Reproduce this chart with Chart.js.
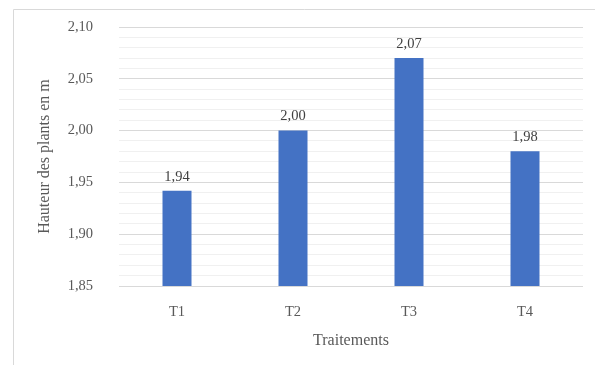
<!DOCTYPE html>
<html>
<head>
<meta charset="utf-8">
<script src="https://cdn.jsdelivr.net/npm/chart.js@4/dist/chart.umd.min.js"></script>
<style>
  html, body { margin: 0; padding: 0; background: #ffffff; }
  #wrap { position: relative; width: 595px; height: 365px; }
</style>
</head>
<body>
<div id="wrap"><canvas id="c" width="595" height="365"></canvas></div>
<script>
// Plant height per treatment
const categories = ['T1', 'T2', 'T3', 'T4'];
const heights = [1.942, 2.00, 2.07, 1.98];
const yMin = 1.85;
const yMax = 2.10;
const minorStep = 0.01;
const majorEvery = 5; // a labelled line every 0.05

const fontFamily = '"Liberation Serif", "Times New Roman", serif';
const textColor = '#595959';

function fmt(v) {
  return v.toFixed(2).replace('.', ',');
}

// Light frame around the chart object
const framePlugin = {
  id: 'frame',
  beforeDraw(chart) {
    const ctx = chart.ctx;
    ctx.save();
    ctx.strokeStyle = '#d9d9d9';
    ctx.lineWidth = 1;
    ctx.beginPath();
    ctx.moveTo(13.5, 400);
    ctx.lineTo(13.5, 9.5);
    ctx.lineTo(600, 9.5);
    ctx.stroke();
    ctx.restore();
  }
};

// Value printed above each bar
const valueLabels = {
  id: 'valueLabels',
  afterDatasetsDraw(chart) {
    const ctx = chart.ctx;
    const meta = chart.getDatasetMeta(0);
    const data = chart.data.datasets[0].data;
    ctx.save();
    ctx.font = '14.5px ' + fontFamily;
    ctx.fillStyle = '#404040';
    ctx.textAlign = 'center';
    ctx.textBaseline = 'middle';
    meta.data.forEach((bar, i) => {
      ctx.fillText(fmt(data[i]), bar.x, bar.y - 14);
    });
    ctx.restore();
  }
};

function isMajor(value) {
  return Math.round(value * 100) % majorEvery === 0;
}

new Chart(document.getElementById('c'), {
  type: 'bar',
  data: {
    labels: categories,
    datasets: [{
      data: heights,
      backgroundColor: '#4472C4',
      borderWidth: 0,
      barPercentage: 0.25,
      categoryPercentage: 1.0
    }]
  },
  options: {
    responsive: false,
    animation: false,
    layout: { padding: { left: 0, right: 12, top: 27, bottom: 0 } },
    plugins: {
      legend: { display: false },
      tooltip: { enabled: false }
    },
    scales: {
      x: {
        grid: { display: false, drawTicks: false },
        border: { display: false },
        ticks: {
          color: textColor,
          font: { family: fontFamily, size: 14.5 },
          padding: 17
        },
        title: {
          display: true,
          text: 'Traitements',
          color: textColor,
          font: { family: fontFamily, size: 16 },
          padding: { top: 0, bottom: 15 }
        },
        afterFit(scale) { scale.height = 79; }
      },
      y: {
        min: yMin,
        max: yMax,
        border: { display: false },
        grid: {
          drawTicks: false,
          color: (ctx) => (ctx.tick && isMajor(ctx.tick.value)) ? '#d9d9d9' : '#f0f0f0',
          lineWidth: 1
        },
        ticks: {
          stepSize: minorStep,
          autoSkip: false,
          color: textColor,
          font: { family: fontFamily, size: 14.5 },
          padding: 26,
          callback: (value) => isMajor(value) ? fmt(value) : ''
        },
        title: {
          display: true,
          text: 'Hauteur des plants en m',
          color: textColor,
          font: { family: fontFamily, size: 16 },
          padding: { top: 35, bottom: 0 }
        },
        afterFit(scale) {
          scale.width = 119;
          scale.paddingTop = 0;
          scale.paddingBottom = 0;
        }
      }
    }
  },
  plugins: [framePlugin, valueLabels]
});
</script>
</body>
</html>
